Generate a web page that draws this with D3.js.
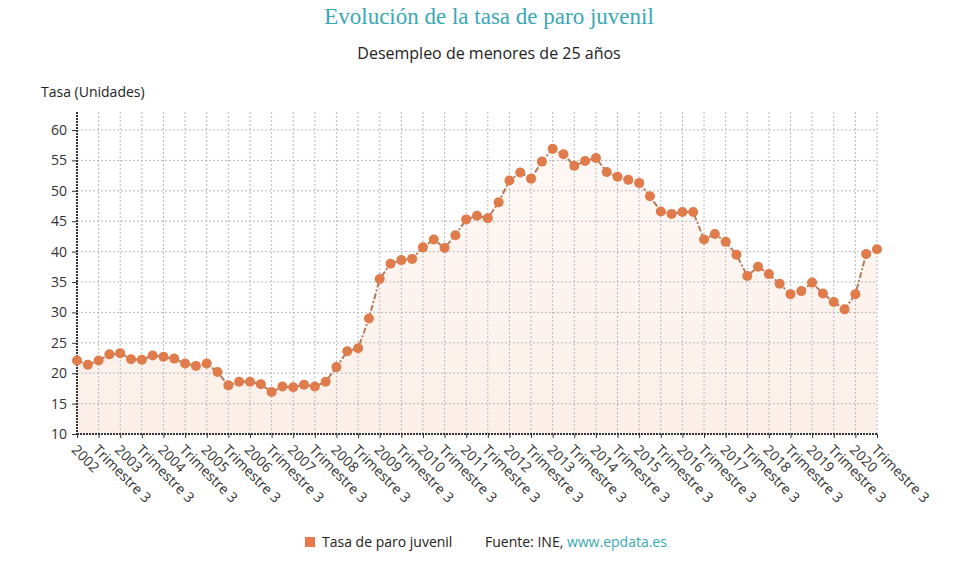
<!DOCTYPE html>
<html><head><meta charset="utf-8">
<script src="https://cdn.jsdelivr.net/npm/d3@7"></script>
<style>body{margin:0;background:#fff}</style>
</head><body><svg id="c" width="977" height="571"></svg>
<script>
const years = d3.range(2002, 2021);
const quarterLabels = [];
years.forEach(y => { quarterLabels.push(String(y)); quarterLabels.push("Trimestre 3"); });
const values = [22.1,21.4,22.1,23.1,23.3,22.3,22.2,22.9,22.7,22.4,21.6,21.2,21.6,20.2,18.0,18.6,18.6,18.2,16.9,17.8,17.7,18.1,17.8,18.6,
21.0,23.6,24.1,29.0,35.5,38.0,38.6,38.8,40.7,42.0,40.6,42.7,45.3,45.9,45.5,48.1,51.7,53.0,52.0,54.8,56.9,56.0,54.1,54.9,55.4,
53.1,52.3,51.8,51.3,49.1,46.6,46.2,46.5,46.5,42.0,42.9,41.6,39.5,36.0,37.5,36.3,34.7,33.0,33.5,34.9,33.1,31.7,30.5,33.0,39.6,40.4];
const yTicks = [10,15,20,25,30,35,40,45,50,55,60];

const svg = d3.select("#c");
const sans = "'Open Sans', 'Noto Sans', sans-serif";
const L = 77, R = 877, T = 130, B = 434;
const x = d3.scaleLinear().domain([0, values.length - 1]).range([L, R]);
const y = d3.scaleLinear().domain([10, 60]).range([B, T]);

svg.append("text").attr("x", 489).attr("y", 24).attr("text-anchor", "middle")
  .attr("font-family", "'Liberation Serif', 'DejaVu Serif', serif").attr("font-size", 23)
  .attr("fill", "#3aa8b4").text("Evolución de la tasa de paro juvenil");
svg.append("text").attr("x", 489).attr("y", 59).attr("text-anchor", "middle")
  .attr("font-family", sans).attr("font-size", 16).attr("fill", "#222").text("Desempleo de menores de 25 años");
svg.append("text").attr("x", 41).attr("y", 97)
  .attr("font-family", sans).attr("font-size", 14).attr("fill", "#222").text("Tasa (Unidades)");

// area
const defs = svg.append("defs");
const g = defs.append("linearGradient").attr("id", "ag").attr("x1", 0).attr("y1", 0).attr("x2", 0).attr("y2", 1);
g.append("stop").attr("offset", "0%").attr("stop-color", "#fef8f5");
g.append("stop").attr("offset", "100%").attr("stop-color", "#fcefe8");
svg.append("path").datum(values)
  .attr("d", d3.area().x((d, i) => x(i)).y0(B).y1(d => y(d)))
  .attr("fill", "url(#ag)");

// grid
const xTickIdx = d3.range(0, values.length, 2);
svg.append("g").selectAll("line").data(yTicks.slice(1)).join("line")
  .attr("x1", L).attr("x2", R).attr("y1", d => y(d)).attr("y2", d => y(d))
  .attr("stroke", "#b8b8b8").attr("stroke-width", 1).attr("stroke-dasharray", "2,2");
svg.append("g").selectAll("line").data(xTickIdx.slice(1)).join("line")
  .attr("x1", d => x(d)).attr("x2", d => x(d)).attr("y1", T - 18).attr("y2", B)
  .attr("stroke", "#b8b8b8").attr("stroke-width", 1).attr("stroke-dasharray", "2,2");

// y axis
const ya = svg.append("g").attr("transform", `translate(${L},0)`)
  .call(d3.axisLeft(y).tickValues(yTicks).tickSize(5).tickPadding(5));
ya.select(".domain").remove();
ya.selectAll("text").attr("font-family", sans).attr("font-size", 14).attr("fill", "#333");
ya.selectAll("line").attr("stroke", "#333");
svg.append("line").attr("x1", L).attr("x2", L).attr("y1", T - 18).attr("y2", B)
  .attr("stroke", "#333").attr("stroke-width", 2).attr("stroke-dasharray", "2,1");

// x axis
const xa = svg.append("g").attr("transform", `translate(0,${B})`)
  .call(d3.axisBottom(x).tickValues(xTickIdx).tickSize(4).tickFormat((d, i) => quarterLabels[i]));
xa.select(".domain").remove();
xa.selectAll("line").attr("stroke", "#333");
xa.selectAll("text").attr("font-family", sans).attr("font-size", 14).attr("fill", "#333")
  .attr("text-anchor", "start").attr("transform", "translate(2,8) rotate(45)").attr("dy", "0.6em").attr("y", 4);
svg.append("line").attr("x1", L).attr("x2", R).attr("y1", B).attr("y2", B)
  .attr("stroke", "#333").attr("stroke-width", 2).attr("stroke-dasharray", "2,1");

// line
svg.append("path").datum(values)
  .attr("d", d3.line().x((d, i) => x(i)).y(d => y(d)))
  .attr("fill", "none").attr("stroke", "#b77a5c").attr("stroke-width", 2).attr("stroke-dasharray", "6,2,2,2");
svg.append("g").selectAll("circle").data(values).join("circle")
  .attr("cx", (d, i) => x(i)).attr("cy", d => y(d)).attr("r", 5).attr("fill", "#e07b4b");

// legend
svg.append("rect").attr("x", 305).attr("y", 537).attr("width", 10).attr("height", 10).attr("fill", "#e8784a");
svg.append("text").attr("x", 322).attr("y", 547).attr("font-family", sans).attr("font-size", 14).attr("fill", "#222").text("Tasa de paro juvenil");
const src = svg.append("text").attr("x", 485).attr("y", 547).attr("font-family", sans).attr("font-size", 14).attr("fill", "#222");
src.append("tspan").text("Fuente: INE, ");
src.append("tspan").attr("fill", "#3aa8b4").text("www.epdata.es");
</script></body></html>
